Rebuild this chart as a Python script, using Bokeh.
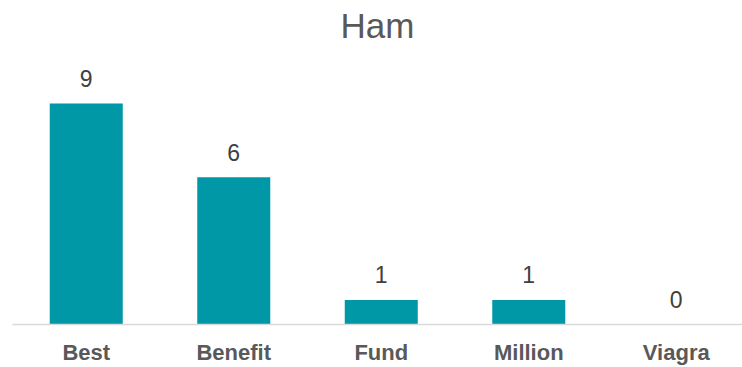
from bokeh.plotting import figure
from bokeh.models import Range1d, FixedTicker, ColumnDataSource
from bokeh.core.properties import value
from bokeh.embed import file_html
from bokeh.resources import INLINE

categories = ["Best", "Benefit", "Fund", "Million", "Viagra"]
counts = [9, 6, 1, 1, 0]
title_text = "Ham"

xs = [i + 0.5 for i in range(len(categories))]
labels = [str(v) for v in counts]
src = ColumnDataSource(dict(x=xs, top=counts, label=labels))

p = figure(width=742, height=367, output_backend="svg", toolbar_location=None,
           x_range=Range1d(0, 4.949), y_range=Range1d(0, 11.28),
           min_border_left=12, min_border_right=0, min_border_bottom=43, min_border_top=0)

p.title.text = title_text
p.title.align = "center"
p.title.text_font = "Liberation Sans"
p.title.text_font_size = "35px"
p.title.text_font_style = "normal"
p.title.text_color = "#595959"
p.title.standoff = 6

p.vbar(x="x", top="top", width=0.495, bottom=0, source=src,
       fill_color="#0097A7", line_color=None)

p.text(x="x", y="top", text="label", source=src, y_offset=-25,
       text_align="center", text_baseline="alphabetic",
       text_font=value("Liberation Sans"), text_font_size="23px", text_color="#404040")

p.xaxis.ticker = FixedTicker(ticks=xs)
p.xaxis.major_label_overrides = {x: c for x, c in zip(xs, categories)}
p.xaxis.major_label_text_font = "Liberation Sans"
p.xaxis.major_label_text_font_size = "22px"
p.xaxis.major_label_text_font_style = "bold"
p.xaxis.major_label_text_color = "#595959"
p.xaxis.major_label_standoff = 9
p.xaxis.major_tick_line_color = None
p.xaxis.minor_tick_line_color = None
p.xaxis.axis_line_color = "#d9d9d9"
p.xaxis.axis_line_width = 1.5
p.yaxis.visible = False
p.xgrid.visible = False
p.ygrid.visible = False
p.outline_line_color = None

open("out.html", "w").write(file_html(p, INLINE))
